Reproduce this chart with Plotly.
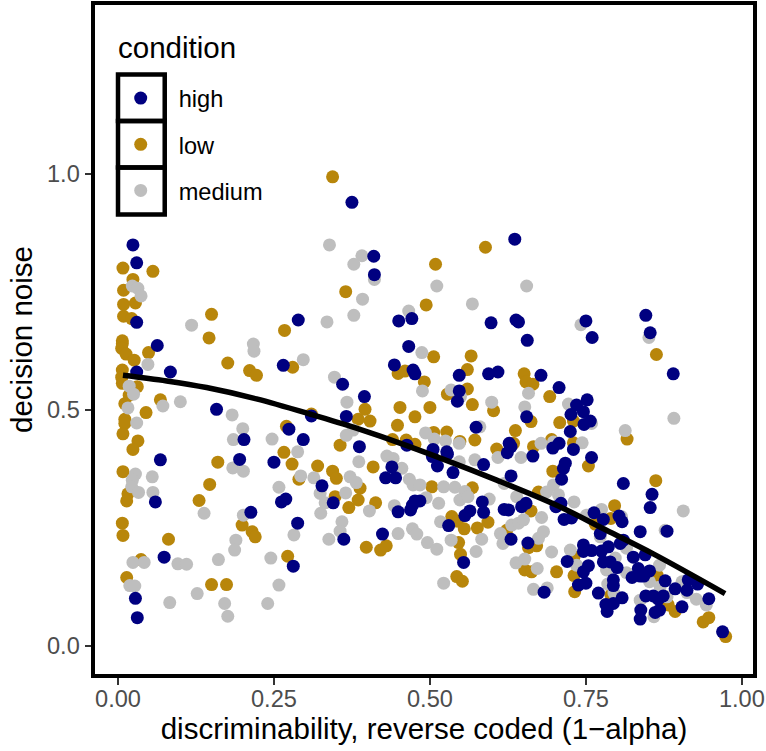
import plotly.graph_objects as go

high_x = [.024,.030,.375,.410,.411,.289,.450,.471,.030,.063,.030,.084,.265,.158,.310,.360,.395,.366,.443,.466,.473,.476,.274,.297,.202,.387,.463,.195,.250,.068,.439,.429,.445,.327,.345,.262,.269,.060,.213,.288,.424,.449,.469,.472,.476,.362,.074,.281,.028,.031,
.636,.598,.638,.642,.656,.750,.760,.846,.853,.890,.547,.594,.609,.678,.707,.547,.544,.574,.655,.752,.735,.746,.726,.757,.747,.725,.627,.630,.707,.697,.730,.505,.527,
.759,.665,.624,.528,.504,.512,.537,.586,.630,.717,.714,.711,.810,.856,.853,.880,.837,.584,.586,.564,.556,.484,.530,.619,.626,.654,.647,.702,.710,.715,.727,.763,.778,.803,.808,.773,.630,.657,.554,.720,.746,.746,.759,.775,.786,.805,.810,.826,.845,.778,.789,.800,.754,.746,.834,.824,.837,.852,.843,.794,.794,.750,.738,.770,.683,.808,.794,.782,.784,.877,.893,.912,.914,.929,.947,.846,.858,.874,.866,.904,.868,.861,.838,.837,.969]
high_y = [.849,.811,.939,.825,.786,.690,.688,.693,.685,.636,.580,.580,.594,.501,.487,.554,.528,.486,.595,.634,.584,.576,.459,.437,.437,.422,.425,.395,.389,.394,.379,.356,.356,.339,.303,.305,.311,.305,.283,.260,.237,.284,.288,.298,.307,.226,.188,.169,.101,.060,
.861,.684,.690,.686,.647,.688,.653,.700,.663,.576,.573,.576,.580,.573,.547,.540,.518,.463,.485,.521,.510,.496,.490,.476,.469,.454,.429,.422,.429,.419,.416,.416,.411,
.399,.402,.409,.406,.401,.381,.367,.384,.360,.387,.376,.353,.344,.321,.293,.243,.242,.305,.283,.286,.276,.307,.255,.289,.288,.302,.295,.295,.302,.268,.271,.282,.268,.275,.263,.238,.226,.218,.177,.179,.214,.200,.202,.201,.210,.217,.224,.188,.193,.178,.178,.166,.170,.157,.164,.145,.148,.159,.148,.140,.128,.133,.129,.112,.114,.102,.090,.088,.073,.138,.121,.118,.140,.131,.100,.106,.106,.106,.099,.083,.076,.071,.076,.057,.030]

low_x = [.344,.008,.056,.024,.009,.028,.009,.365,.009,.022,.150,.146,.267,.007,.007,.006,.013,.026,.049,.176,.211,.222,.280,.007,.006,.007,.031,.018,.011,.068,.045,.011,.011,.008,.032,.024,.008,.016,.014,.007,.008,.081,.037,.014,.150,.174,.270,.310,.266,.279,.290,.160,.147,.130,.199,.215,.220,.272,.320,.344,.350,.348,.370,.385,.388,.413,.398,.421,.430,.409,.356,.385,.396,.404,.449,.460,.452,.476,.448,.440,.462,.476,
.589,.509,.494,.506,.566,.560,.863,.491,.560,.528,.500,.568,.602,.651,.654,.665,.692,.662,.708,.730,.637,.572,.527,.506,.548,.695,.816,.607,.666,.730,.634,
.754,.697,.862,.503,.568,.674,.796,.662,.535,.544,.555,.576,.593,.790,.765,.623,.546,.549,.658,.671,.731,.652,.663,.703,.731,.864,.543,.552,.732,.790,.882,.893,.938,.947,.974]
low_y = [.993,.800,.793,.776,.753,.726,.723,.750,.698,.693,.702,.652,.668,.646,.640,.630,.618,.605,.621,.599,.583,.573,.590,.584,.569,.556,.549,.531,.513,.521,.494,.480,.471,.449,.434,.416,.369,.322,.307,.260,.234,.226,.183,.145,.130,.130,.465,.491,.410,.385,.353,.389,.342,.308,.256,.242,.231,.190,.381,.370,.355,.316,.293,.309,.334,.303,.209,.203,.212,.379,.425,.480,.501,.476,.577,.582,.505,.485,.467,.437,.436,.427,
.844,.808,.722,.612,.614,.585,.617,.559,.544,.533,.505,.511,.498,.576,.559,.554,.528,.475,.473,.476,.456,.436,.453,.452,.433,.437,.438,.417,.422,.430,.429,
.381,.370,.350,.337,.335,.326,.297,.286,.274,.264,.248,.250,.262,.270,.258,.245,.219,.194,.208,.212,.189,.161,.157,.157,.149,.150,.147,.137,.115,.108,.087,.073,.051,.060,.020]

medium_x = [.339,.391,.378,.411,.392,.378,.335,.118,.466,.023,.032,.037,.217,.218,.297,.048,.347,.018,.025,.016,.072,.100,.030,.183,.200,.185,.247,.367,.366,.377,.288,.386,.431,.441,.455,.467,.473,.293,.314,.372,.382,.365,.324,.332,.325,.403,.443,.359,.356,.338,.449,.472,.479,.028,.023,.022,.033,.055,.056,.184,.201,.258,.138,.201,.282,.189,.187,.161,.245,.024,.042,.096,.110,.019,.027,.258,.127,.083,.171,.240,.176,
.511,.655,.568,.487,.742,.851,.891,.534,.488,.549,.599,.658,.652,.722,.580,.759,.813,.493,.507,.525,.547,.678,.744,.698,
.572,.609,.646,.547,.619,.484,.494,.514,.522,.540,.556,.548,.561,.595,.639,.687,.698,.706,.731,.679,.751,.775,.807,.906,.877,.517,.631,.642,.650,.613,.682,.674,.617,.496,.511,.534,.583,.574,.695,.725,.638,.652,.672,.735,.783,.815,.773,.815,.797,.868,.852,.785,.522,.666,.688,.795,.869,.837,.859,.904,.912,.927,.943,.880]
medium_y = [.849,.826,.808,.776,.734,.700,.686,.679,.709,.762,.757,.741,.639,.624,.606,.596,.569,.550,.533,.504,.508,.517,.472,.489,.460,.437,.438,.516,.446,.457,.411,.390,.402,.397,.376,.353,.341,.360,.356,.358,.346,.324,.323,.303,.281,.286,.297,.263,.243,.226,.238,.248,.237,.364,.351,.337,.325,.358,.325,.377,.370,.336,.281,.277,.235,.224,.203,.183,.186,.177,.177,.174,.173,.128,.127,.129,.111,.092,.090,.090,.063,
.762,.762,.724,.621,.680,.653,.482,.542,.540,.528,.516,.535,.506,.512,.464,.471,.456,.451,.438,.434,.429,.429,.430,.432,
.394,.399,.399,.390,.344,.341,.314,.302,.337,.336,.327,.309,.316,.311,.316,.326,.341,.320,.305,.272,.277,.289,.274,.286,.245,.263,.256,.260,.267,.238,.242,.228,.217,.219,.205,.224,.226,.200,.199,.203,.176,.184,.164,.171,.161,.155,.231,.207,.186,.171,.136,.131,.133,.120,.123,.112,.125,.097,.062,.136,.113,.099,.087,.104]

fit_x = [.008,.078,.142,.222,.310,.382,.463,.607,.703,.783,.858,.973]
fit_y = [.573,.561,.547,.523,.490,.461,.424,.351,.298,.245,.195,.111]

x_tick_vals = [0, .25, .5, .75, 1]
x_tick_text = ["0.00", "0.25", "0.50", "0.75", "1.00"]
y_tick_vals = [0, .5, 1]
y_tick_text = ["0.0", "0.5", "1.0"]

NAVY, GOLD, GRAY = "#000080", "#B8860B", "#BEBEBE"
FONT = "Liberation Sans"
L, R, T, B = 93.3, 755.0, 2.7, 676.0
W, H = 766, 751

def px(x): return (x - L) / (R - L)
def py(y): return (B - y) / (B - T)

fig = go.Figure()
msize = 13
for name, xs, ys, col, rank in [("low", low_x, low_y, GOLD, 2),
                                ("medium", medium_x, medium_y, GRAY, 3),
                                ("high", high_x, high_y, NAVY, 1)]:
    fig.add_trace(go.Scatter(x=xs, y=ys, mode="markers", name=name, legendrank=rank,
                             legendgroup=name,
                             marker=dict(color=col, size=msize, line=dict(width=0))))
fig.add_trace(go.Scatter(x=fit_x, y=fit_y, mode="lines", showlegend=False,
                         line=dict(color="black", width=5.5, shape="spline")))

shapes = [dict(type="rect", xref="paper", yref="paper", x0=0, x1=1, y0=0, y1=1,
               line=dict(color="black", width=4), layer="above")]
for y0, y1 in [(74.3, 120.7), (120.7, 167.3), (167.3, 214.3)]:
    shapes.append(dict(type="rect", xref="paper", yref="paper", x0=px(118.3), x1=px(165),
                       y0=py(y1), y1=py(y0), line=dict(color="black", width=4.5), layer="above"))

axis_common = dict(showgrid=False, zeroline=False, ticks="outside", ticklen=7.5, tickwidth=2,
                   tickcolor="#333333", showline=False,
                   tickfont=dict(family=FONT, size=23.6, color="#4D4D4D"))
fig.update_layout(
    width=W, height=H, autosize=False,
    margin=dict(l=L, r=W - R, t=T, b=H - B, autoexpand=False),
    paper_bgcolor="white", plot_bgcolor="white",
    font=dict(family=FONT, color="black"),
    xaxis=dict(range=[-0.040, 1.021], tickvals=x_tick_vals, ticktext=x_tick_text,
               ticklabelstandoff=-6,
               title=dict(text="discriminability, reverse coded (1\u2212alpha)",
                          font=dict(family=FONT, size=29.5, color="black"), standoff=5),
               **axis_common),
    yaxis=dict(range=[-0.0635, 1.361], tickvals=y_tick_vals, ticktext=y_tick_text,
               title=dict(text="decision noise",
                          font=dict(family=FONT, size=29.5, color="black"), standoff=5),
               **axis_common),
    legend=dict(x=px(103), y=py(76), xanchor="left", yanchor="top",
                bgcolor="rgba(0,0,0,0)", itemwidth=66, tracegroupgap=12.5,
                font=dict(family=FONT, size=23.6, color="black")),
    annotations=[dict(text="condition", xref="paper", yref="paper", x=px(116), y=py(47.5),
                      xanchor="left", yanchor="middle", showarrow=False,
                      font=dict(family=FONT, size=29.5, color="black"))],
    shapes=shapes,
)
fig.write_html("out.html", config=dict(displayModeBar=False),
               post_script="document.body.style.margin='0';document.documentElement.style.overflow='hidden';")
